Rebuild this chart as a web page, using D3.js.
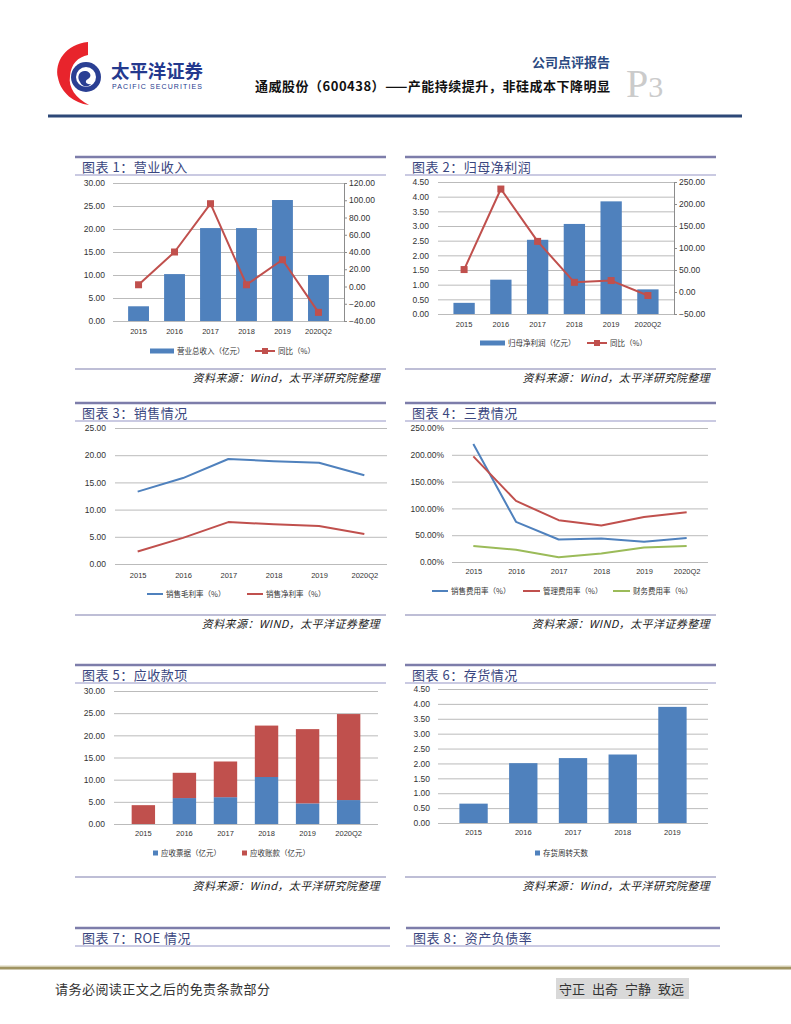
<!DOCTYPE html>
<html>
<head>
<meta charset="utf-8">
<script src="https://cdn.jsdelivr.net/npm/d3@7"></script>
<style>
  body { margin: 0; background: #fff; }
  svg { display: block; }
</style>
</head>
<body>
<script>
// ---- data ----
const years6 = ["2015", "2016", "2017", "2018", "2019", "2020Q2"];
const years5 = ["2015", "2016", "2017", "2018", "2019"];

// 图表1 营业收入
const revenue = [3.2, 10.2, 20.2, 20.2, 26.3, 10.0];
const revenueYoy = [2, 40, 96, 2, 31, -30];
const rev_ticksL = [0, 5, 10, 15, 20, 25, 30];
const rev_ticksR = [-40, -20, 0, 20, 40, 60, 80, 100, 120];

// 图表2 归母净利润
const netProfit = [0.38, 1.17, 2.53, 3.07, 3.84, 0.84];
const netProfitYoy = [51, 234, 115, 22, 26, -8];
const np_ticksL = [0, 0.5, 1, 1.5, 2, 2.5, 3, 3.5, 4, 4.5];
const np_ticksR = [-50, 0, 50, 100, 150, 200, 250];

// 图表3 销售情况
const grossMargin = [13.3, 15.8, 19.3, 18.9, 18.6, 16.3];
const netMargin = [2.3, 4.8, 7.7, 7.3, 7.0, 5.5];
const sales_ticks = [0, 5, 10, 15, 20, 25];

// 图表4 三费情况
const sellExp = [220, 75, 42, 44, 38, 45];
const adminExp = [197, 114, 78, 68, 84, 93];
const finExp = [30, 23, 9, 16, 27, 30];
const exp_ticks = [0, 50, 100, 150, 200, 250];

// 图表5 应收款项
const notesRecv = [0, 5.85, 6.05, 10.6, 4.65, 5.4];
const acctRecv = [4.25, 5.7, 8.05, 11.6, 16.75, 19.4];
const recv_ticks = [0, 5, 10, 15, 20, 25, 30];

// 图表6 存货情况
const invDays = [0.65, 2.01, 2.18, 2.3, 3.9];
const inv_ticks = [0, 0.5, 1, 1.5, 2, 2.5, 3, 3.5, 4, 4.5];

const BLUE = "#4f81bd", RED = "#c0504d", GREEN = "#9bbb59";
const CJK = "'Noto Sans CJK SC', sans-serif";
const LAT = "'Liberation Sans', Arial, sans-serif";

const svg = d3.select("body").append("svg")
  .attr("width", 791).attr("height", 1024);
svg.append("rect").attr("width", 791).attr("height", 1024).attr("fill", "#fff");

// ---- header ----
let head = svg.append("g");
head.append("path")
  .attr("d", "M88,42 C66,44 54,62 58,78 C61,93 74,103 89,105 C76,98 68,88 70,76 C71,64 78,57 88,55 Z")
  .attr("fill", "#e8242c");
head.append("circle").attr("cx", 86).attr("cy", 77).attr("r", 15).attr("fill", "#2a3f93");
head.append("circle").attr("cx", 86).attr("cy", 77).attr("r", 10).attr("fill", "#fff");
head.append("path")
  .attr("d", "M80,82 C76,76 80,70 86,71 C91,72 92,77 88,79 C84,81 86,85 91,84 C88,88 82,87 80,82 Z")
  .attr("fill", "#2a3f93");
head.append("text").attr("x", 111).attr("y", 78)
  .attr("textLength", 92).attr("lengthAdjust", "spacingAndGlyphs")
  .style("font", `bold 18px ${CJK}`).attr("fill", "#24398e").text("太平洋证券");
head.append("text").attr("x", 112).attr("y", 89)
  .attr("textLength", 90).attr("lengthAdjust", "spacing")
  .style("font", `7px ${LAT}`).attr("fill", "#24398e").text("PACIFIC SECURITIES");
head.append("text").attr("x", 610).attr("y", 67).attr("text-anchor", "end")
  .style("font", `bold 13px ${CJK}`).attr("fill", "#2b4a82").text("公司点评报告");
head.append("text").attr("x", 610).attr("y", 91).attr("text-anchor", "end")
  .attr("textLength", 355).attr("lengthAdjust", "spacing")
  .style("font", `bold 13px ${CJK}`).attr("fill", "#111")
  .text("通威股份（600438）——产能持续提升，非硅成本下降明显");
let p3 = head.append("text").attr("x", 626).attr("y", 97)
  .style("font-family", "'Liberation Serif', serif").attr("fill", "#cbcbcb");
p3.append("tspan").style("font-size", "40px").text("P");
p3.append("tspan").style("font-size", "30px").text("3");
head.append("line").attr("x1", 48).attr("x2", 742).attr("y1", 116).attr("y2", 116)
  .attr("stroke", "#2d4877").attr("stroke-width", 3);

// ---- panel frames ----
function frame(x0, x1, yTop, title, yBot, source) {
  svg.append("line").attr("x1", x0).attr("x2", x1).attr("y1", yTop).attr("y2", yTop)
    .attr("stroke", "#7d7daa").attr("stroke-width", 2.5);
  svg.append("text").attr("x", x0 + 7).attr("y", yTop + 10).attr("dy", "0.35em")
    .style("font", `13px ${CJK}`).attr("fill", "#3a4680").style("letter-spacing", "0.5px")
    .text(title);
  svg.append("line").attr("x1", x0).attr("x2", x1).attr("y1", yTop + 18).attr("y2", yTop + 18)
    .attr("stroke", "#b8b8d8").attr("stroke-width", 1.5);
  if (yBot) {
    svg.append("line").attr("x1", x0).attr("x2", x1).attr("y1", yBot).attr("y2", yBot)
      .attr("stroke", "#a8a8c8").attr("stroke-width", 1.5);
    svg.append("text").attr("x", x1 - 6).attr("y", yBot + 9).attr("dy", "0.35em")
      .attr("text-anchor", "end").style("font", `italic 11px ${CJK}`)
      .style("letter-spacing", "0.4px").attr("fill", "#222").text(source);
  }
}

const SRC1 = "资料来源：Wind，太平洋研究院整理";
const SRC2 = "资料来源：WIND，太平洋证券整理";
frame(75, 386, 157, "图表 1：营业收入", 369, SRC1);
frame(405, 716, 157, "图表 2：归母净利润", 369, SRC1);
frame(75, 386, 403, "图表 3：销售情况", 615, SRC2);
frame(405, 716, 403, "图表 4：三费情况", 615, SRC2);
frame(75, 386, 665, "图表 5：应收款项", 877, SRC1);
frame(405, 716, 665, "图表 6：存货情况", 877, SRC1);
frame(75, 390, 928, "图表 7：ROE 情况");
frame(406, 720, 928, "图表 8：资产负债率");

// ---- axis helpers ----
function plot(x0, x1, yT, yB) {
  return { g: svg.append("g").attr("transform", `translate(${x0},${yT})`), w: x1 - x0, h: yB - yT };
}
function grid(p, y, ticks, gap, fmt) {
  p.g.append("g")
    .call(d3.axisLeft(y).tickValues(ticks).tickSize(-p.w).tickPadding(gap).tickFormat(fmt))
    .call(a => a.select(".domain").remove())
    .call(a => a.selectAll("line").attr("stroke", "#a9a9a9").attr("stroke-width", 0.8))
    .call(a => a.selectAll("text").attr("fill", "#333").style("font", `8.5px ${LAT}`));
}
function cats(p, x, pad) {
  p.g.append("g").attr("transform", `translate(0,${p.h})`)
    .call(d3.axisBottom(x).tickSize(0).tickPadding(pad))
    .call(a => a.select(".domain").remove())
    .call(a => a.selectAll("text").attr("fill", "#333").style("font", `7.5px ${LAT}`));
}
function rightAxis(p, y, ticks) {
  p.g.append("g").attr("transform", `translate(${p.w},0)`)
    .call(d3.axisRight(y).tickValues(ticks).tickSize(3).tickPadding(2).tickFormat(d3.format(".2f")))
    .call(a => a.selectAll("line, .domain").attr("stroke", "#8c8c8c"))
    .call(a => a.selectAll("text").attr("fill", "#333").style("font", `8.5px ${LAT}`));
}
function lineWithMarks(p, x, y, vals, color, marks) {
  let cx = d => x(d[0]) + (x.bandwidth ? x.bandwidth() / 2 : 0);
  let pts = x.domain().map((c, i) => [c, vals[i]]);
  p.g.append("path").datum(pts)
    .attr("d", d3.line().x(cx).y(d => y(d[1])))
    .attr("fill", "none").attr("stroke", color).attr("stroke-width", 2).attr("stroke-linejoin", "round");
  if (marks) {
    p.g.selectAll(null).data(pts).enter().append("rect")
      .attr("x", d => cx(d) - 3.5).attr("y", d => y(d[1]) - 3.5)
      .attr("width", 7).attr("height", 7).attr("fill", color);
  }
}
function legendItem(kind, x1, x2, y, color, label) {
  if (kind === "bar") {
    svg.append("rect").attr("x", x1).attr("y", y - 2.5).attr("width", x2 - x1).attr("height", 5).attr("fill", color);
  } else if (kind === "sq") {
    svg.append("rect").attr("x", x1).attr("y", y - 2.5).attr("width", 5).attr("height", 5).attr("fill", color);
  } else {
    svg.append("line").attr("x1", x1).attr("x2", x2).attr("y1", y).attr("y2", y)
      .attr("stroke", color).attr("stroke-width", 2);
    if (kind === "mark") {
      svg.append("rect").attr("x", (x1 + x2) / 2 - 3).attr("y", y - 3)
        .attr("width", 6).attr("height", 6).attr("fill", color);
    }
  }
  svg.append("text").attr("x", (kind === "sq" ? x1 + 5 : x2) + 3).attr("y", y).attr("dy", "0.35em")
    .style("font", `7.5px ${CJK}`).attr("fill", "#333").text(label);
}
const f2 = d3.format(".2f");

// ---- 图表1 ----
{
  let p = plot(113, 344, 183, 321);
  let x = d3.scaleBand().domain(years6).range([0, p.w]).padding(0.42);
  let y = d3.scaleLinear().domain([0, 30]).range([p.h, 0]);
  let y2 = d3.scaleLinear().domain([-40, 120]).range([p.h, 0]);
  grid(p, y, rev_ticksL, 8, f2);
  rightAxis(p, y2, rev_ticksR);
  p.g.selectAll(null).data(revenue).enter().append("rect")
    .attr("x", (d, i) => x(years6[i])).attr("width", x.bandwidth())
    .attr("y", d => y(d)).attr("height", d => p.h - y(d)).attr("fill", BLUE);
  lineWithMarks(p, x, y2, revenueYoy, RED, true);
  cats(p, x, 8);
  legendItem("bar", 150, 174, 351, BLUE, "营业总收入（亿元）");
  legendItem("mark", 255, 275, 351, RED, "同比（%）");
}

// ---- 图表2 ----
{
  let p = plot(438, 674, 182, 314);
  let x = d3.scaleBand().domain(years6).range([0, p.w]).padding(0.42);
  let y = d3.scaleLinear().domain([0, 4.5]).range([p.h, 0]);
  let y2 = d3.scaleLinear().domain([-50, 250]).range([p.h, 0]);
  grid(p, y, np_ticksL, 9, f2);
  rightAxis(p, y2, np_ticksR);
  p.g.selectAll(null).data(netProfit).enter().append("rect")
    .attr("x", (d, i) => x(years6[i])).attr("width", x.bandwidth())
    .attr("y", d => y(d)).attr("height", d => p.h - y(d)).attr("fill", BLUE);
  lineWithMarks(p, x, y2, netProfitYoy, RED, true);
  cats(p, x, 8);
  legendItem("bar", 480, 505, 343, BLUE, "归母净利润（亿元）");
  legendItem("mark", 587, 607, 343, RED, "同比（%）");
}

// ---- 图表3 ----
{
  let p = plot(115, 387, 428, 564);
  let x = d3.scalePoint().domain(years6).range([0, p.w]).padding(0.5);
  let y = d3.scaleLinear().domain([0, 25]).range([p.h, 0]);
  grid(p, y, sales_ticks, 9, f2);
  lineWithMarks(p, x, y, grossMargin, BLUE, false);
  lineWithMarks(p, x, y, netMargin, RED, false);
  cats(p, x, 9);
  legendItem("line", 147, 163, 594, BLUE, "销售毛利率（%）");
  legendItem("line", 247, 263, 594, RED, "销售净利率（%）");
}

// ---- 图表4 ----
{
  let p = plot(452, 708, 428, 562);
  let x = d3.scalePoint().domain(years6).range([0, p.w]).padding(0.5);
  let y = d3.scaleLinear().domain([0, 250]).range([p.h, 0]);
  grid(p, y, exp_ticks, 8, d => f2(d) + "%");
  lineWithMarks(p, x, y, sellExp, BLUE, false);
  lineWithMarks(p, x, y, adminExp, RED, false);
  lineWithMarks(p, x, y, finExp, GREEN, false);
  cats(p, x, 7);
  legendItem("line", 432, 448, 591, BLUE, "销售费用率（%）");
  legendItem("line", 523, 540, 591, RED, "管理费用率（%）");
  legendItem("line", 613, 630, 591, GREEN, "财务费用率（%）");
}

// ---- 图表5 ----
{
  let p = plot(114, 378, 691, 824);
  let x = d3.scaleBand().domain(years6).range([0, p.w]).padding(0.43);
  let y = d3.scaleLinear().domain([0, 30]).range([p.h, 0]);
  grid(p, y, recv_ticks, 9, f2);
  let rows = years6.map((c, i) => ({ cat: c, notes: notesRecv[i], acct: acctRecv[i] }));
  let stacked = d3.stack().keys(["notes", "acct"])(rows);
  let colors = { notes: BLUE, acct: RED };
  p.g.selectAll(null).data(stacked).enter().append("g")
    .attr("fill", s => colors[s.key])
    .selectAll("rect").data(s => s).enter().append("rect")
    .attr("x", d => x(d.data.cat)).attr("width", x.bandwidth())
    .attr("y", d => y(d[1])).attr("height", d => y(d[0]) - y(d[1]));
  cats(p, x, 7);
  legendItem("sq", 153, 158, 853, BLUE, "应收票据（亿元）");
  legendItem("sq", 242, 247, 853, RED, "应收账款（亿元）");
}

// ---- 图表6 ----
{
  let p = plot(438, 708, 689, 823);
  let x = d3.scaleBand().domain(years5).range([0, p.w]).padding(0.43);
  let y = d3.scaleLinear().domain([0, 4.5]).range([p.h, 0]);
  grid(p, y, inv_ticks, 8, f2);
  p.g.selectAll(null).data(invDays).enter().append("rect")
    .attr("x", (d, i) => x(years5[i])).attr("width", x.bandwidth())
    .attr("y", d => y(d)).attr("height", d => p.h - y(d)).attr("fill", BLUE);
  cats(p, x, 7);
  legendItem("sq", 535, 540, 853, BLUE, "存货周转天数");
}

// ---- footer ----
svg.append("line").attr("x1", 0).attr("x2", 791).attr("y1", 968).attr("y2", 968)
  .attr("stroke", "#a09462").attr("stroke-width", 3);
svg.append("line").attr("x1", 0).attr("x2", 791).attr("y1", 966).attr("y2", 966)
  .attr("stroke", "#d8d2b4").attr("stroke-width", 1);
svg.append("text").attr("x", 55).attr("y", 989).attr("dy", "0.35em")
  .attr("textLength", 215).attr("lengthAdjust", "spacing")
  .style("font", `13px ${CJK}`).attr("fill", "#333").text("请务必阅读正文之后的免责条款部分");
svg.append("rect").attr("x", 556).attr("y", 978).attr("width", 133).attr("height", 21).attr("fill", "#d9d9d9");
["守正", "出奇", "宁静", "致远"].forEach((w, i) => {
  svg.append("text").attr("x", 559 + i * 33).attr("y", 989).attr("dy", "0.35em")
    .style("font", `13px ${CJK}`).attr("fill", "#333").text(w);
});
</script>
</body>
</html>
